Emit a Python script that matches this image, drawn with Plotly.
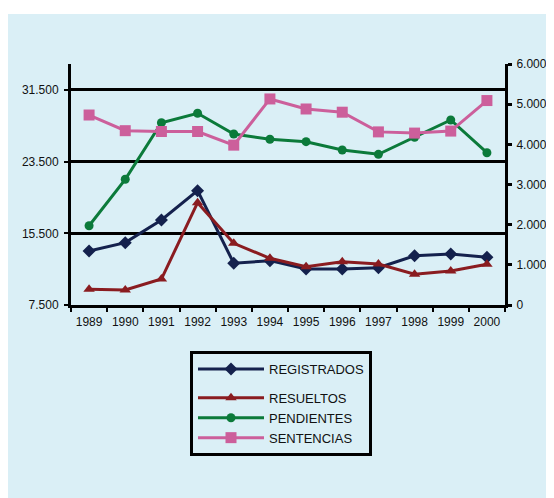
import plotly.graph_objects as go

years = ["1989", "1990", "1991", "1992", "1993", "1994", "1995", "1996", "1997", "1998", "1999", "2000"]
registrados = [13530, 14460, 16990, 20260, 12160, 12450, 11520, 11520, 11660, 13000, 13190, 12830]
resueltos = [9250, 9170, 10400, 18920, 14390, 12710, 11780, 12330, 12080, 10930, 11300, 12040]
pendientes = [16350, 21530, 27850, 28900, 26590, 26000, 25730, 24800, 24320, 26220, 28150, 24500]
sentencias = [4730, 4340, 4320, 4320, 3980, 5130, 4880, 4800, 4310, 4280, 4330, 5090]

left_ticks = [7500, 15500, 23500, 31500]
left_labels = ["7.500", "15.500", "23.500", "31.500"]
right_ticks = [0, 1000, 2000, 3000, 4000, 5000, 6000]
right_labels = ["0", "1.000", "2.000", "3.000", "4.000", "5.000", "6.000"]

BG = "#daeff6"
FONT = "Liberation Sans, Arial, sans-serif"

# plot area in figure px: left 63, right 497, top 56, bottom 297
L, R, T, B = 63, 497, 56, 297
W, H = 554, 498
PW, PH = R - L, B - T

fig = go.Figure()
fig.add_trace(go.Scatter(x=years, y=registrados, name="REGISTRADOS", mode="lines+markers",
                         line=dict(color="#14214d", width=3),
                         marker=dict(symbol="diamond", size=10, color="#14214d"),
                         legendgroup="a"))
fig.add_trace(go.Scatter(x=years, y=resueltos, name="RESUELTOS", mode="lines+markers",
                         line=dict(color="#8a1c20", width=3),
                         marker=dict(symbol="triangle-up", size=10, color="#8a1c20"),
                         legendgroup="b"))
fig.add_trace(go.Scatter(x=years, y=pendientes, name="PENDIENTES", mode="lines+markers",
                         line=dict(color="#0b7a3a", width=3),
                         marker=dict(symbol="circle", size=9, color="#0b7a3a"),
                         legendgroup="b"))
fig.add_trace(go.Scatter(x=years, y=sentencias, name="SENTENCIAS", mode="lines+markers",
                         line=dict(color="#cc5f9b", width=3),
                         marker=dict(symbol="square", size=11, color="#cc5f9b"),
                         yaxis="y2", legendgroup="b"))

fig.update_layout(
    width=W, height=H,
    margin=dict(l=L, r=W - R, t=T, b=H - B, autoexpand=False),
    paper_bgcolor=BG, plot_bgcolor=BG,
    font=dict(family=FONT, size=12, color="#111111"),
    showlegend=True,
    xaxis=dict(type="category", range=[-0.5, 11.5], showline=True, linecolor="black", linewidth=3,
               ticks="outside", tickson="boundaries", ticklen=4, tickwidth=2, tickcolor="black",
               showgrid=False, zeroline=False, tickfont=dict(size=12), tickangle=0,
               automargin=False, ticklabelstandoff=4),
    yaxis=dict(range=[7500, 34400], tickvals=left_ticks, ticktext=left_labels,
               showline=True, linecolor="black", linewidth=3, ticks="outside", ticklen=4,
               tickwidth=2, tickcolor="black", showgrid=True, gridcolor="black", gridwidth=3,
               zeroline=False, tickfont=dict(size=12), ticklabelstandoff=3, automargin=False),
    yaxis2=dict(range=[0, 6000], overlaying="y", side="right", tickvals=right_ticks,
                ticktext=right_labels, showline=True, linecolor="black", linewidth=3,
                ticks="outside", ticklen=4, tickwidth=3, tickcolor="black", showgrid=False,
                zeroline=False, tickfont=dict(size=12), ticklabelstandoff=2, automargin=False),
    legend=dict(x=(182 - L) / PW, y=(B - 343) / PH, xanchor="left", yanchor="top",
                bgcolor="rgba(0,0,0,0)", bordercolor="black", borderwidth=3,
                font=dict(size=13, family=FONT), tracegroupgap=9, itemwidth=66),
    shapes=[
        dict(type="rect", xref="paper", yref="paper", x0=-0.3, x1=1.3,
             y0=(B - 6) / PH, y1=(B + 2) / PH, fillcolor="white", line=dict(width=0), layer="below"),
    ],
)

fig.write_html("out.html")
